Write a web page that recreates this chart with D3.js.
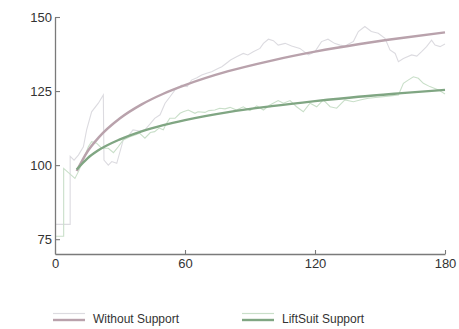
<!DOCTYPE html>
<html>
<head>
<meta charset="utf-8">
<script src="https://cdn.jsdelivr.net/npm/d3@7"></script>
<style>
  body { margin: 0; background: #fff; }
  svg { display: block; font-family: "Liberation Sans", Arial, sans-serif; }
</style>
</head>
<body>
<div id="chart"></div>
<script>
// raw readings: [minute, value]
const withoutRaw = [
  [0, 80], [7, 80], [7, 103], [8.8, 101.7], [10.8, 103.4], [13.1, 106.2], [14.6, 111.9],
  [16.9, 118], [20, 120.9], [22.3, 123.7], [22.6, 101.7], [24.6, 100], [26.2, 101.2],
  [28.5, 100.6], [31.5, 108.5], [34, 110], [36, 111.9], [39, 111.5], [41.5, 111.9],
  [44, 114], [46, 115.8], [48.5, 117], [50.8, 120.9], [53, 123], [55.4, 125.4], [58.5, 127],
  [61, 126.5], [63, 128.7], [65.5, 129.5], [67.7, 130.4], [70, 131], [72.3, 131.5],
  [75, 132.5], [77, 133.2], [80, 134.9], [81, 135.5], [83.8, 136.6], [86.9, 137.7],
  [89, 137.2], [91.5, 138.3], [94.6, 139.4], [96.2, 141.1], [98.5, 142.5], [100.8, 142],
  [103, 140.5], [106.2, 141.1], [109.2, 140.2], [113, 139.4], [117, 137.2], [120, 138.3],
  [123, 141.7], [126, 142.5], [129, 141.1], [131.5, 140.5], [133.8, 140.2], [137.7, 141.7],
  [140, 145.1], [143, 146.8], [146, 145.1], [149.2, 144.5], [152.3, 142.8], [154.6, 138.9],
  [157, 137.7], [158.5, 134.9], [160.8, 136], [164.6, 137.2], [167, 136.8], [169.2, 138.3],
  [171.5, 140], [173.8, 142.2], [175.4, 140.5], [177.7, 140], [180, 140.9]
];
const liftRaw = [
  [0, 76], [4, 76], [4, 98.9], [9.2, 95.5], [10.8, 97.8], [13, 101.7], [15.4, 106.2],
  [16.9, 107.9], [19.2, 107.4], [21.5, 105.7], [24.6, 105.7], [27, 104.2], [29.2, 106.2],
  [31.5, 108.5], [34.6, 109.6], [37, 110.2], [39, 110.8], [41.5, 109.1], [44, 111],
  [46, 111.3], [48, 112.5], [50, 111.9], [51, 113.5], [53, 115.8], [55.4, 115.8],
  [57.7, 117.5], [59.2, 118], [61.5, 118.6], [64.6, 117.5], [66, 118], [69.2, 117.8],
  [71, 118.4], [73.8, 118.6], [76, 119.2], [78.5, 119], [80.8, 119.5], [83.8, 118.6],
  [86.9, 119.7], [90, 118.4], [93.1, 120], [96.2, 118.6], [99.2, 120.3], [103, 121.8],
  [105.4, 120.9], [108.5, 121.8], [111.5, 119.7], [114.6, 118], [117.7, 120.9],
  [120.8, 119.7], [123.8, 122], [127, 119.7], [130, 119.2], [133.8, 122], [137.7, 121.4],
  [140.8, 122], [144.6, 122.6], [149.2, 122.9], [153.8, 123.3], [158.5, 123.7],
  [160.8, 127.6], [163, 128.7], [165.4, 129.8], [167.7, 129.3], [170, 127.6],
  [173, 126.5], [177, 125.4], [180, 124]
];

// fitted trend, read at these minutes
const fitT = [10, 15, 20, 30, 40, 50, 60, 80, 100, 120, 140, 160, 180];
const withoutFit = [98.0, 104.6, 109.2, 115.8, 120.5, 124.1, 127.0, 131.7, 135.3, 138.3, 140.8, 142.9, 144.8];
const liftFit = [98.5, 102.3, 105.0, 108.7, 111.4, 113.5, 115.2, 117.9, 119.9, 121.6, 123.1, 124.3, 125.4];

const xTicks = [0, 60, 120, 180];
const yTicks = [75, 100, 125, 150];
const seriesNames = ['Without Support', 'LiftSuit Support'];

const width = 459, height = 329;
const rawColors = ['#dcdbe0', '#c9dfc9'];
const fitColors = ['#b9a2ac', '#80a683'];

const svg = d3.select('#chart').append('svg')
  .attr('width', width)
  .attr('height', height);

const x = d3.scaleLinear().domain([0, 180]).range([55, 445]);
const y = d3.scaleLinear().domain([70, 150]).range([254, 17]);

const rawLine = d3.line().x(d => x(d[0])).y(d => y(d[1]));
const fitLine = d3.line().x(d => x(d[0])).y(d => y(d[1])).curve(d3.curveMonotoneX);

[withoutRaw, liftRaw].forEach((data, i) => {
  svg.append('path')
    .attr('d', rawLine(data))
    .attr('fill', 'none')
    .attr('stroke', rawColors[i])
    .attr('stroke-width', 1.1);
});

[withoutFit, liftFit].forEach((vals, i) => {
  svg.append('path')
    .attr('d', fitLine(fitT.map((t, j) => [t, vals[j]])))
    .attr('fill', 'none')
    .attr('stroke', fitColors[i])
    .attr('stroke-width', 2.4);
});

// axes
const xAxis = svg.append('g')
  .attr('transform', `translate(0,${y(70)})`)
  .call(d3.axisBottom(x).tickValues(xTicks).tickSizeInner(-4).tickSizeOuter(0).tickPadding(5));

const yAxis = svg.append('g')
  .attr('transform', `translate(${x(0)},0)`)
  .call(d3.axisLeft(y).tickValues(yTicks).tickSizeInner(-5).tickSizeOuter(0).tickPadding(3));

[xAxis, yAxis].forEach(g => {
  g.select('.domain').attr('stroke', '#7a7a7a').attr('stroke-width', 1.3);
  g.selectAll('.tick line').attr('stroke', '#7a7a7a').attr('stroke-width', 1.1);
  g.selectAll('.tick text')
    .attr('fill', '#333')
    .attr('font-size', 13)
    .attr('font-family', '"Liberation Sans", Arial, sans-serif');
});

// legend
const legendX = [53, 242];
seriesNames.forEach((name, i) => {
  const g = svg.append('g').attr('transform', `translate(${legendX[i]},0)`);
  g.append('line')
    .attr('x1', 0).attr('x2', 32).attr('y1', 313.5).attr('y2', 313.5)
    .attr('stroke', rawColors[i]).attr('stroke-width', 1.2);
  g.append('line')
    .attr('x1', 0).attr('x2', 32).attr('y1', 320).attr('y2', 320)
    .attr('stroke', fitColors[i]).attr('stroke-width', 2.4);
  g.append('text')
    .attr('x', 40).attr('y', 323)
    .attr('fill', '#333')
    .attr('font-size', 12)
    .text(name);
});
</script>
</body>
</html>
